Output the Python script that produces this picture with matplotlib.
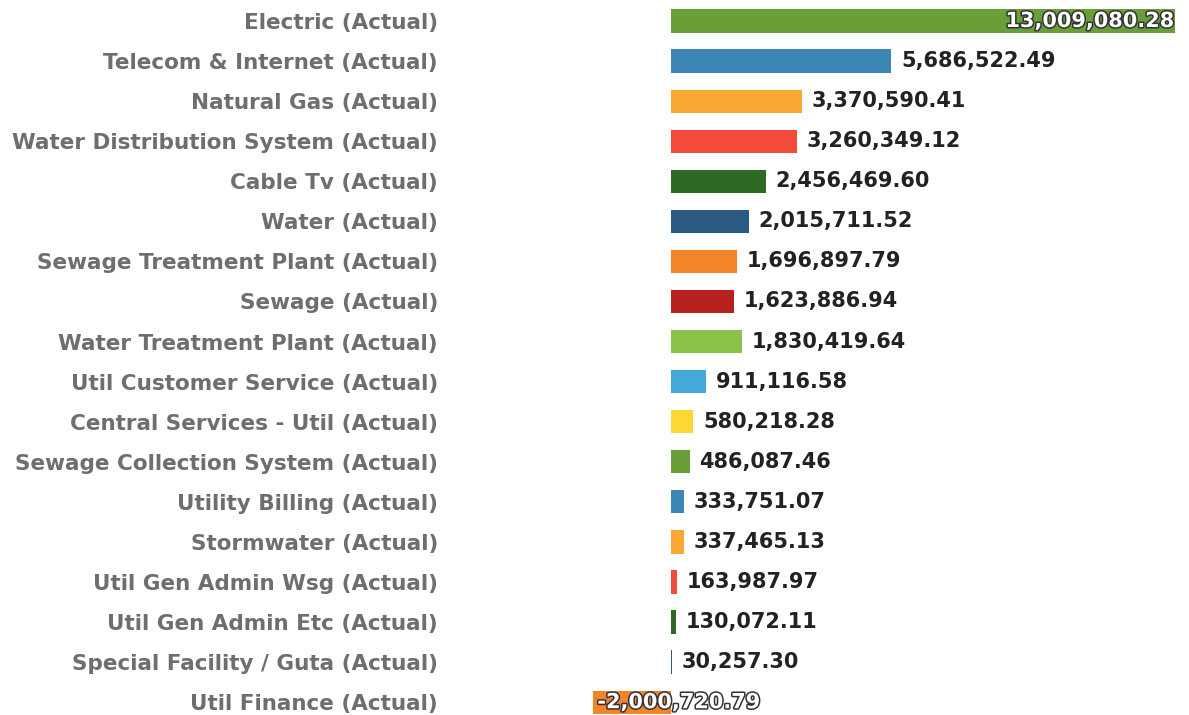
import matplotlib.pyplot as plt
import matplotlib.patheffects as pe

categories = [
    "Electric (Actual)",
    "Telecom & Internet (Actual)",
    "Natural Gas (Actual)",
    "Water Distribution System (Actual)",
    "Cable Tv (Actual)",
    "Water (Actual)",
    "Sewage Treatment Plant (Actual)",
    "Sewage (Actual)",
    "Water Treatment Plant (Actual)",
    "Util Customer Service (Actual)",
    "Central Services - Util (Actual)",
    "Sewage Collection System (Actual)",
    "Utility Billing (Actual)",
    "Stormwater (Actual)",
    "Util Gen Admin Wsg (Actual)",
    "Util Gen Admin Etc (Actual)",
    "Special Facility / Guta (Actual)",
    "Util Finance (Actual)",
]
values = [
    13009080.28, 5686522.49, 3370590.41, 3260349.12, 2456469.60, 2015711.52,
    1696897.79, 1623886.94, 1830419.64, 911116.58, 580218.28, 486087.46,
    333751.07, 337465.13, 163987.97, 130072.11, 30257.30, -2000720.79,
]
colors = [
    "#689f38", "#3c87b6", "#f9a933", "#f44a3a", "#2e6a24", "#2b5a85",
    "#f28429", "#b8221e", "#8bc34a", "#44a8d8", "#fdd835", "#689f38",
    "#3c87b6", "#f9a933", "#f44a3a", "#2e6a24", "#2b5a85", "#f28429",
]

FONT = "DejaVu Sans"

fig = plt.figure(figsize=(11.89, 7.15), dpi=100)
ax = fig.add_axes([445 / 1189, 0, 1 - 445 / 1189, 1])

ypos = list(range(len(categories)))
ax.barh(ypos, values, height=0.58, color=colors)

# zero line sits at x=671px, Electric bar ends near x=1175px
px_per_unit = 504 / 13009080.28
ax.set_xlim(-(671 - 445) / px_per_unit, (1189 - 671) / px_per_unit)
ax.set_ylim(17.32, -0.524)

ax.set_yticks(ypos)
ax.set_yticklabels(categories, fontsize=15.5, color="#6e6e6e",
                   fontfamily=FONT, fontweight="bold")
ax.tick_params(axis="y", length=0, pad=5)
ax.set_xticks([])
for s in ax.spines.values():
    s.set_visible(False)

outline = [pe.withStroke(linewidth=2.2, foreground="#333333")]
for y, v in zip(ypos, values):
    txt = f"{v:,.2f}"
    if v == max(values):
        ax.text(v - 0.02e6, y, txt, ha="right", va="center", fontsize=15,
                fontfamily=FONT, fontweight="bold", color="white",
                path_effects=outline)
    elif v < 0:
        ax.text(v + 0.1e6, y, txt, ha="left", va="center", fontsize=15,
                fontfamily=FONT, fontweight="bold", color="white",
                path_effects=outline)
    else:
        ax.text(v + 0.25e6, y, txt, ha="left", va="center", fontsize=15,
                fontfamily=FONT, fontweight="bold", color="#222222")

fig.savefig("out.png", dpi=100)
